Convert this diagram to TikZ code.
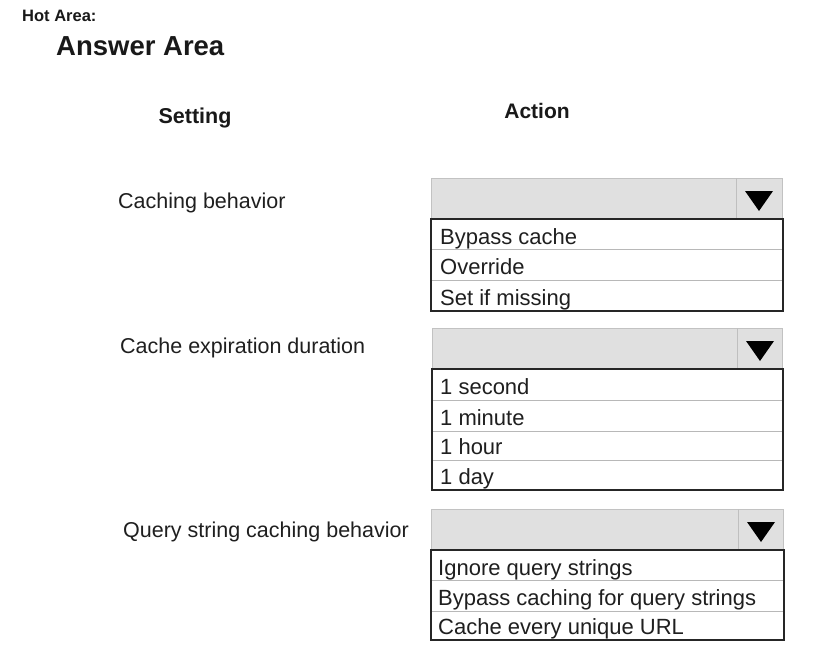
\documentclass[tikz,border=0pt]{standalone}
\usepackage{fontspec}
\setmainfont{Liberation Sans}
\begin{document}
\begin{tikzpicture}[x=1pt,y=-1pt,
  txt/.style={anchor=base west,inner sep=0pt,text=black!88,font=\fontsize{21.5}{24}\selectfont},
  itm/.style={anchor=base west,inner sep=0pt,text=black!88,font=\fontsize{22}{24}\selectfont},
  bold/.style={anchor=base west,inner sep=0pt,text=black!90,font=\bfseries},
  hdr/.style={fill=black!12,draw=black!24,line width=0.8pt},
  divider/.style={draw=black!25,line width=0.9pt},
  listbox/.style={draw=black!85,line width=1.1pt},
  sep/.style={draw=black!28,line width=0.8pt},
  tri/.style={fill=black}
]
\useasboundingbox (0,0) rectangle (839,665);
\fill[white] (0,0) rectangle (839,665);

\node[bold,font=\bfseries\fontsize{16.5}{18}\selectfont] (hot) at (22,21) {Hot Area:};
\node[bold,font=\bfseries\fontsize{27.5}{30}\selectfont] (ans) at (56,55) {Answer Area};
\node[bold,font=\bfseries\fontsize{21.5}{24}\selectfont,anchor=base] (set) at (195,123) {Setting};
\node[bold,font=\bfseries\fontsize{21}{24}\selectfont,anchor=base] (act) at (537,118) {Action};

\node[txt] (l1) at (118,208) {Caching behavior};
\node[txt] (l2) at (120,353) {Cache expiration duration};
\node[txt] (l3) at (123,537) {Query string caching behavior};

% Dropdown 1
\draw[hdr] (431,178) rectangle (782,219);
\draw[divider] (736,178) -- (736,219);
\fill[tri] (745,191) -- (773,191) -- (759,211) -- cycle;
\draw[sep] (431,249) -- (783,249);
\draw[sep] (431,280) -- (783,280);
\draw[listbox] (431,219) rectangle (783,311);
\node[itm] (a1) at (440,244) {Bypass cache};
\node[itm] (a2) at (440,274.5) {Override};
\node[itm] (a3) at (440,305) {Set if missing};

% Dropdown 2
\draw[hdr] (432,328) rectangle (782,369);
\draw[divider] (737,328) -- (737,369);
\fill[tri] (746,341) -- (774,341) -- (760,361) -- cycle;
\draw[sep] (432,400) -- (783,400);
\draw[sep] (432,431) -- (783,431);
\draw[sep] (432,460) -- (783,460);
\draw[listbox] (432,369) rectangle (783,490);
\node[itm] (b1) at (440,394.5) {1 second};
\node[itm] (b2) at (440,425) {1 minute};
\node[itm] (b3) at (440,454.5) {1 hour};
\node[itm] (b4) at (440,484) {1 day};

% Dropdown 3
\draw[hdr] (431,509) rectangle (783,550);
\draw[divider] (738,509) -- (738,550);
\fill[tri] (747,522) -- (775,522) -- (761,542) -- cycle;
\draw[sep] (431,580) -- (784,580);
\draw[sep] (431,611) -- (784,611);
\draw[listbox] (431,550) rectangle (784,640);
\node[itm] (c1) at (438,575) {Ignore query strings};
\node[itm] (c2) at (438,605.5) {Bypass caching for query strings};
\node[itm] (c3) at (438,634.5) {Cache every unique URL};
\end{tikzpicture}
\end{document}
